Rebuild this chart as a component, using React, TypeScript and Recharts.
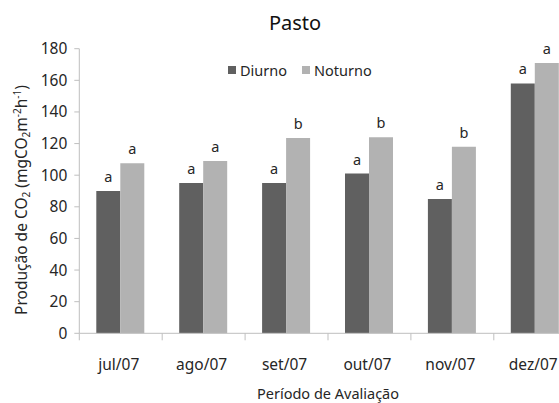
import React from 'react';
import { BarChart, Bar, XAxis, YAxis, Legend, LabelList } from 'recharts';

const categories = ['jul/07', 'ago/07', 'set/07', 'out/07', 'nov/07', 'dez/07'];
const diurno = [90, 95, 95, 101, 85, 158];
const noturno = [107.5, 109, 123.5, 124, 118, 171];
const diurnoLetters = ['a', 'a', 'a', 'a', 'a', 'a'];
const noturnoLetters = ['a', 'a', 'b', 'b', 'b', 'a'];
const yTicks = [0, 20, 40, 60, 80, 100, 120, 140, 160, 180];

const data = categories.map((c, i) => ({
  cat: c,
  diurno: diurno[i],
  noturno: noturno[i],
  dl: diurnoLetters[i],
  nl: noturnoLetters[i],
}));

const FONT = '"Noto Sans", "Open Sans", sans-serif';
const TEXT = '#262626';
const AXIS = '#bfbfbf';
const DARK = '#606060';
const LIGHT = '#b2b2b2';

const XTick = (props: any) => {
  const { x, y, payload } = props;
  const half = 41.45;
  return (
    <g>
      <line x1={x - half} x2={x - half} y1={y} y2={y + 7} stroke={AXIS} strokeWidth={1} />
      <text x={x - 2} y={y + 37} textAnchor="middle" fill={TEXT} fontSize={15.5} fontFamily={FONT}>
        {payload.value}
      </text>
    </g>
  );
};

const LegendContent = () => (
  <div style={{ display: 'flex', alignItems: 'center', fontFamily: FONT, fontSize: 14.5, color: TEXT }}>
    <span style={{ width: 8, height: 8, background: DARK, display: 'inline-block', marginRight: 4 }} />
    <span style={{ marginRight: 15 }}>Diurno</span>
    <span style={{ width: 8, height: 8, background: LIGHT, display: 'inline-block', marginRight: 4 }} />
    <span>Noturno</span>
  </div>
);

const YLabel = () => (
  <text
    transform="translate(27,200) rotate(-90)"
    textAnchor="middle"
    fill={TEXT}
    fontSize={15.5}
    fontFamily={FONT}
  >
    <tspan>Produção de CO</tspan>
    <tspan fontSize={10} dy={3}>2</tspan>
    <tspan dy={-3}> (mgCO</tspan>
    <tspan fontSize={10} dy={3}>2</tspan>
    <tspan dy={-3}>m</tspan>
    <tspan fontSize={10} dy={-6}>-2</tspan>
    <tspan dy={6}>h</tspan>
    <tspan fontSize={10} dy={-6}>-1</tspan>
    <tspan dy={6}>)</tspan>
  </text>
);

export default function App() {
  return (
    <div style={{ position: 'absolute', left: 0, top: 0, width: 559, height: 403, overflow: 'hidden', background: '#fff' }}>
      <div
        style={{
          position: 'absolute',
          left: 245,
          width: 100,
          top: 8,
          textAlign: 'center',
          fontFamily: FONT,
          fontSize: 20,
          lineHeight: '30px',
          color: '#111',
        }}
      >
        Pasto
      </div>
      <div
        style={{
          position: 'absolute',
          left: 228,
          width: 200,
          top: 385,
          textAlign: 'center',
          fontFamily: FONT,
          fontSize: 14.5,
          color: TEXT,
          lineHeight: '16px',
        }}
      >
        Período de Avaliação
      </div>
      <BarChart
        width={600}
        height={403}
        data={data}
        margin={{ top: 48.7, right: 23.3, bottom: 0, left: 0 }}
        barGap={0}
        barSize={24}
      >
        <XAxis
          dataKey="cat"
          height={69.7}
          stroke={AXIS}
          tickLine={false}
          tickSize={0}
          tickMargin={0}
          tick={<XTick />}
          interval={0}
        />
        <YAxis
          width={79.3}
          domain={[0, 180]}
          ticks={yTicks}
          stroke={AXIS}
          tickSize={5}
          tickMargin={7}
          tick={{ fill: TEXT, fontSize: 15.5, fontFamily: FONT }}
          label={<YLabel />}
        />
        <Legend
          layout="horizontal"
          verticalAlign="middle"
          content={<LegendContent />}
          wrapperStyle={{ top: 60, left: 228, width: 200, height: 22 }}
        />
        <Bar dataKey="diurno" name="Diurno" fill={DARK} isAnimationActive={false}>
          <LabelList dataKey="dl" position="top" offset={9} fill={TEXT} fontSize={14.5} fontFamily={FONT} />
        </Bar>
        <Bar dataKey="noturno" name="Noturno" fill={LIGHT} isAnimationActive={false}>
          <LabelList dataKey="nl" position="top" offset={9} fill={TEXT} fontSize={14.5} fontFamily={FONT} />
        </Bar>
      </BarChart>
    </div>
  );
}
